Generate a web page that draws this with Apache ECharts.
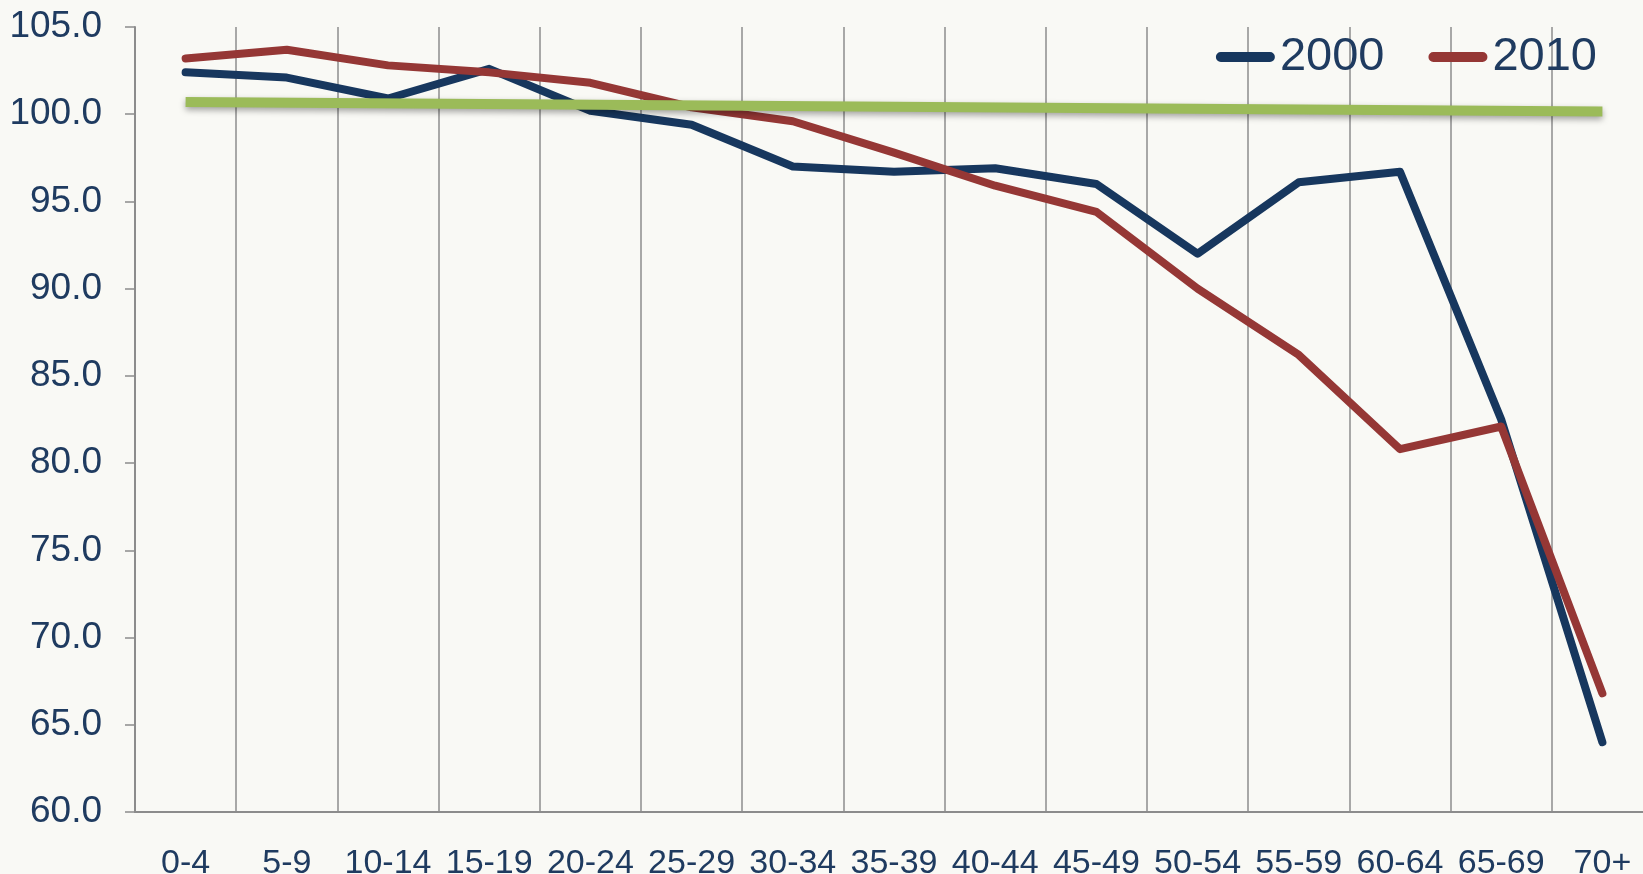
<!DOCTYPE html>
<html>
<head>
<meta charset="utf-8">
<script src="https://cdn.jsdelivr.net/npm/echarts@6/dist/echarts.min.js"></script>
<style>
html,body{margin:0;padding:0;background:#F9F9F5;overflow:hidden;}
#chart{width:1680px;height:874px;}
</style>
</head>
<body>
<div id="chart"></div>
<script>
const categories = ['0-4','5-9','10-14','15-19','20-24','25-29','30-34','35-39','40-44','45-49','50-54','55-59','60-64','65-69','70+'];
const series2000 = [102.4, 102.1, 100.9, 102.6, 100.2, 99.4, 97.0, 96.7, 96.9, 96.0, 92.0, 96.1, 96.7, 82.5, 64.0];
const series2010 = [103.2, 103.7, 102.8, 102.4, 101.8, 100.4, 99.6, 97.8, 95.9, 94.4, 90.0, 86.2, 80.8, 82.1, 66.8];
const referenceLine = [100.7, null, null, null, null, null, null, null, null, null, null, null, null, null, 100.15];
const yTicks = { min: 60, max: 105, interval: 5 };

const navy = '#1F3B60';
const chart = echarts.init(document.getElementById('chart'));
chart.setOption({
  backgroundColor: '#F9F9F5',
  animation: false,
  legend: {
    data: ['2000', '2010'],
    right: 78,
    top: 28,
    itemWidth: 59,
    itemHeight: 10,
    itemGap: 44,
    icon: 'path://M5,0 H55 A5,5 0 0 1 55,10 H5 A5,5 0 0 1 5,0 Z',
    textStyle: { fontFamily: 'Liberation Sans, Arial, sans-serif', fontSize: 47, color: navy, lineHeight: 48 }
  },
  grid: { left: 135, top: 27, width: 1518, height: 785, outerBoundsMode: 'none', containLabel: false },
  xAxis: {
    type: 'category',
    data: categories,
    boundaryGap: true,
    axisLine: { lineStyle: { color: '#8C8C8C', width: 2 } },
    axisTick: { show: false },
    axisLabel: { margin: 35, fontFamily: 'Liberation Sans Narrow, Liberation Sans, Arial, sans-serif', fontSize: 34, color: navy, interval: 0 },
    splitLine: { show: true, interval: 0, lineStyle: { color: '#8C8C8C', width: 1.5 } }
  },
  yAxis: {
    type: 'value',
    min: yTicks.min, max: yTicks.max, interval: yTicks.interval,
    axisLine: { show: true, lineStyle: { color: '#8C8C8C', width: 2 } },
    axisTick: { show: true, length: 10, lineStyle: { color: '#8C8C8C', width: 1.5 } },
    axisLabel: { margin: 33, fontFamily: 'Liberation Sans, Arial, sans-serif', fontSize: 37, color: navy, formatter: v => v.toFixed(1) },
    splitLine: { show: false }
  },
  series: [
    { name: '2000', type: 'line', data: series2000, symbol: 'none',
      lineStyle: { color: '#17375E', width: 8, cap: 'round', join: 'round' }, itemStyle: { color: '#17375E' } },
    { name: '2010', type: 'line', data: series2010, symbol: 'none',
      lineStyle: { color: '#953735', width: 8, cap: 'round', join: 'round' }, itemStyle: { color: '#953735' } },
    { name: 'ref', type: 'line', data: referenceLine, symbol: 'none', connectNulls: true,
      lineStyle: { color: '#9BBB59', width: 10, cap: 'butt', shadowColor: 'rgba(0,0,0,0.35)', shadowBlur: 6, shadowOffsetY: 3 } }
  ]
});
</script>
</body>
</html>
